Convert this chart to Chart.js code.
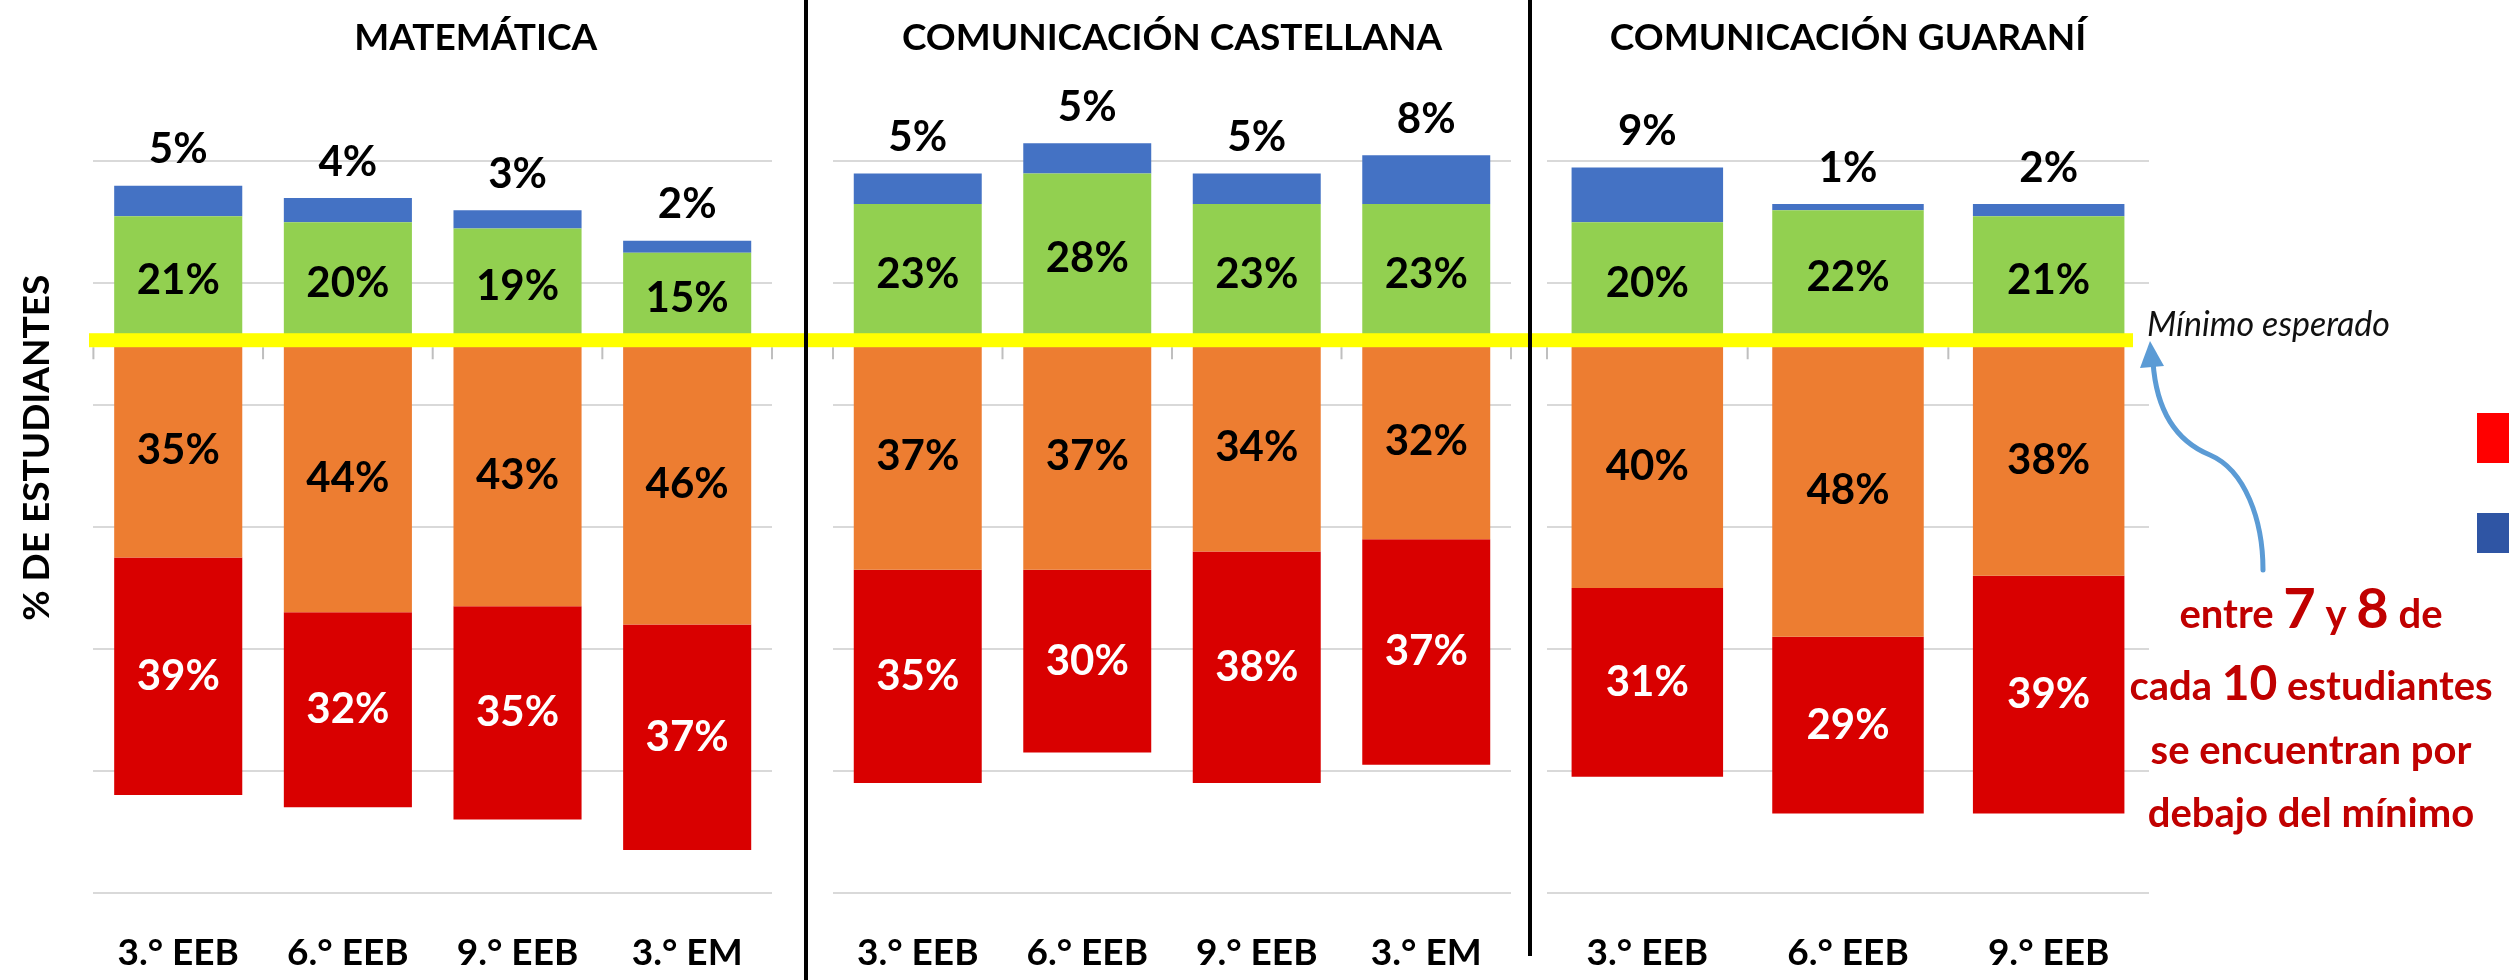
<!DOCTYPE html>
<html>
<head>
<meta charset="utf-8">
<script src="https://cdn.jsdelivr.net/npm/chart.js@4"></script>
<style>
  html, body { margin: 0; padding: 0; background: #fff; overflow: hidden; }
  #wrap { position: relative; width: 2509px; height: 980px; overflow: hidden; }
  #wrap canvas { position: absolute; left: 0; top: 0; }
</style>
</head>
<body>
<div id="wrap">
  <canvas id="mat" width="2509" height="1020"></canvas>
  <canvas id="cas" width="2509" height="1020"></canvas>
  <canvas id="gua" width="2509" height="1020"></canvas>
</div>
<script>
// x tick labels
var gradosLargo = ['3.° EEB', '6.° EEB', '9.° EEB', '3.° EM'];
var gradosCorto = ['3.° EEB', '6.° EEB', '9.° EEB'];

// % of students per level (red + orange are below the minimum)
var matRojo = [39, 32, 35, 37];
var matNaranja = [35, 44, 43, 46];
var matVerde = [21, 20, 19, 15];
var matAzul = [5, 4, 3, 2];

var casRojo = [35, 30, 38, 37];
var casNaranja = [37, 37, 34, 32];
var casVerde = [23, 28, 23, 23];
var casAzul = [5, 5, 5, 8];

var guaRojo = [31, 29, 39];
var guaNaranja = [40, 48, 38];
var guaVerde = [20, 22, 21];
var guaAzul = [9, 1, 2];

// where the light grid lines sit
var lineasY = [30, 10, -10, -30, -50, -70, -90];

function neg(v) { return -v; }

// value labels + small tick marks on the zero line
var etiquetas = {
    id: 'etiquetas',
    afterDatasetsDraw: function (chart) {
        var ctx = chart.ctx;
        ctx.save();
        ctx.font = 'bold 42px Lato';
        ctx.textAlign = 'center';
        ctx.textBaseline = 'middle';
        chart.data.datasets.forEach(function (ds, i) {
            chart.getDatasetMeta(i).data.forEach(function (bar, j) {
                var y = ds.arriba ? bar.y - 36 : (bar.y + bar.base) / 2;
                ctx.fillStyle = ds.colorTexto;
                ctx.fillText(Math.abs(ds.data[j]) + '%', bar.x, y);
            });
        });

        var a = chart.chartArea;
        var n = chart.data.labels.length;
        var y0 = chart.scales.y.getPixelForValue(0);
        ctx.strokeStyle = '#BFBFBF';
        ctx.lineWidth = 2;
        ctx.beginPath();
        for (var k = 0; k <= n; k++) {
            var x = a.left + k * (a.right - a.left) / n;
            ctx.moveTo(x, y0 + 3);
            ctx.lineTo(x, y0 + 15);
        }
        ctx.stroke();
        ctx.restore();
    }
};

// panel heading
var tituloPanel = {
    id: 'tituloPanel',
    afterDraw: function (chart, args, opts) {
        var a = chart.chartArea, ctx = chart.ctx;
        ctx.save();
        ctx.font = 'bold 37px Lato';
        ctx.fillStyle = '#000';
        ctx.textAlign = 'center';
        ctx.textBaseline = 'alphabetic';
        ctx.fillText(opts.text, (a.left + a.right) / 2 + (opts.dx || 0), 50);
        ctx.restore();
    }
};

// yellow "minimum" line, dividers, arrow and red note (drawn once, on the top canvas)
var anotaciones = {
    id: 'anotaciones',
    afterDraw: function (chart) {
        var ctx = chart.ctx;
        var y0 = chart.scales.y.getPixelForValue(0);
        ctx.save();

        ctx.fillStyle = '#FFFF00';
        ctx.fillRect(89, y0 - 11, 2044, 14);

        ctx.strokeStyle = '#000';
        ctx.lineWidth = 4;
        ctx.beginPath();
        ctx.moveTo(806, 0); ctx.lineTo(806, 980);
        ctx.moveTo(1530, 0); ctx.lineTo(1530, 956);
        ctx.stroke();

        ctx.fillStyle = '#111';
        ctx.font = 'italic 34px Lato';
        ctx.textAlign = 'left';
        ctx.textBaseline = 'alphabetic';
        ctx.fillText('Mínimo esperado', 2147, 336);

        // curved arrow
        ctx.strokeStyle = '#5B9BD5';
        ctx.fillStyle = '#5B9BD5';
        ctx.lineWidth = 5;
        ctx.lineCap = 'round';
        ctx.beginPath();
        ctx.moveTo(2263, 570);
        ctx.bezierCurveTo(2263, 520, 2245, 470, 2210, 455);
        ctx.bezierCurveTo(2183, 444, 2157, 420, 2153, 362);
        ctx.stroke();
        ctx.beginPath();
        ctx.moveTo(2150, 341);
        ctx.lineTo(2140, 368);
        ctx.lineTo(2164, 366);
        ctx.closePath();
        ctx.fill();

        // note
        var lineas = [
            [['entre ', 40], ['7', 56], [' y ', 40], ['8', 56], [' de', 40]],
            [['cada ', 40], ['10', 48], [' estudiantes', 40]],
            [['se encuentran por', 40]],
            [['debajo del mínimo', 40]]
        ];
        var bases = [628, 700, 764, 827];
        ctx.fillStyle = '#C00000';
        lineas.forEach(function (partes, i) {
            var ancho = 0;
            partes.forEach(function (p) {
                ctx.font = 'bold ' + p[1] + 'px Lato';
                ancho += ctx.measureText(p[0]).width;
            });
            var x = 2311 - ancho / 2;
            partes.forEach(function (p) {
                ctx.font = 'bold ' + p[1] + 'px Lato';
                ctx.fillText(p[0], x, bases[i]);
                x += ctx.measureText(p[0]).width;
            });
        });

        // cut legend markers at the right edge
        ctx.fillStyle = '#FF0000';
        ctx.fillRect(2477, 413, 40, 50);
        ctx.fillStyle = '#2F55A4';
        ctx.fillRect(2477, 513, 40, 40);

        ctx.restore();
    }
};

function panel(id, grados, rojo, naranja, verde, azul, titulo, pad, tituloY, extra) {
    return new Chart(document.getElementById(id), {
        type: 'bar',
        data: {
            labels: grados,
            datasets: [
                { label: 'Nivel II', data: naranja.map(neg), backgroundColor: '#ED7D31', colorTexto: '#000' },
                { label: 'Nivel I', data: rojo.map(neg), backgroundColor: '#D90000', colorTexto: '#fff' },
                { label: 'Nivel III', data: verde, backgroundColor: '#92D050', colorTexto: '#000' },
                { label: 'Nivel IV', data: azul, backgroundColor: '#4472C4', colorTexto: '#000', arriba: true }
            ]
        },
        options: {
            responsive: false,
            animation: false,
            layout: { padding: pad },
            datasets: { bar: { barPercentage: 0.755, categoryPercentage: 1 } },
            plugins: {
                legend: { display: false },
                tooltip: { enabled: false },
                tituloPanel: titulo
            },
            scales: {
                x: {
                    stacked: true,
                    grid: { display: false, drawTicks: false },
                    border: { display: false },
                    ticks: {
                        color: '#000',
                        padding: 38,
                        maxRotation: 0,
                        font: { family: 'Lato', weight: 'bold', size: 37, lineHeight: 1.2 }
                    }
                },
                y: {
                    stacked: true,
                    min: -90,
                    max: 56,
                    afterBuildTicks: function (scale) {
                        scale.ticks = lineasY.map(function (v) { return { value: v }; });
                    },
                    grid: { color: '#D9D9D9', lineWidth: 2, drawTicks: false },
                    border: { display: false },
                    ticks: { display: false },
                    title: {
                        display: tituloY,
                        text: '% DE ESTUDIANTES',
                        color: '#000',
                        padding: { top: 4, bottom: 34 },
                        font: { family: 'Lato', weight: 'bold', size: 37, lineHeight: 1.2 }
                    }
                }
            }
        },
        plugins: [etiquetas, tituloPanel].concat(extra || [])
    });
}

document.addEventListener("DOMContentLoaded", function () {
    panel('mat', gradosLargo, matRojo, matNaranja, matVerde, matAzul,
        { text: 'MATEMÁTICA', dx: 43 },
        { left: 11, right: 1737, top: 3, bottom: 7 }, true);
    panel('cas', gradosLargo, casRojo, casNaranja, casVerde, casAzul,
        { text: 'COMUNICACIÓN CASTELLANA' },
        { left: 833, right: 998, top: 3, bottom: 7 }, false);
    panel('gua', gradosCorto, guaRojo, guaNaranja, guaVerde, guaAzul,
        { text: 'COMUNICACIÓN GUARANÍ' },
        { left: 1547, right: 360, top: 3, bottom: 7 }, false, [anotaciones]);
});
</script>
</body>
</html>
